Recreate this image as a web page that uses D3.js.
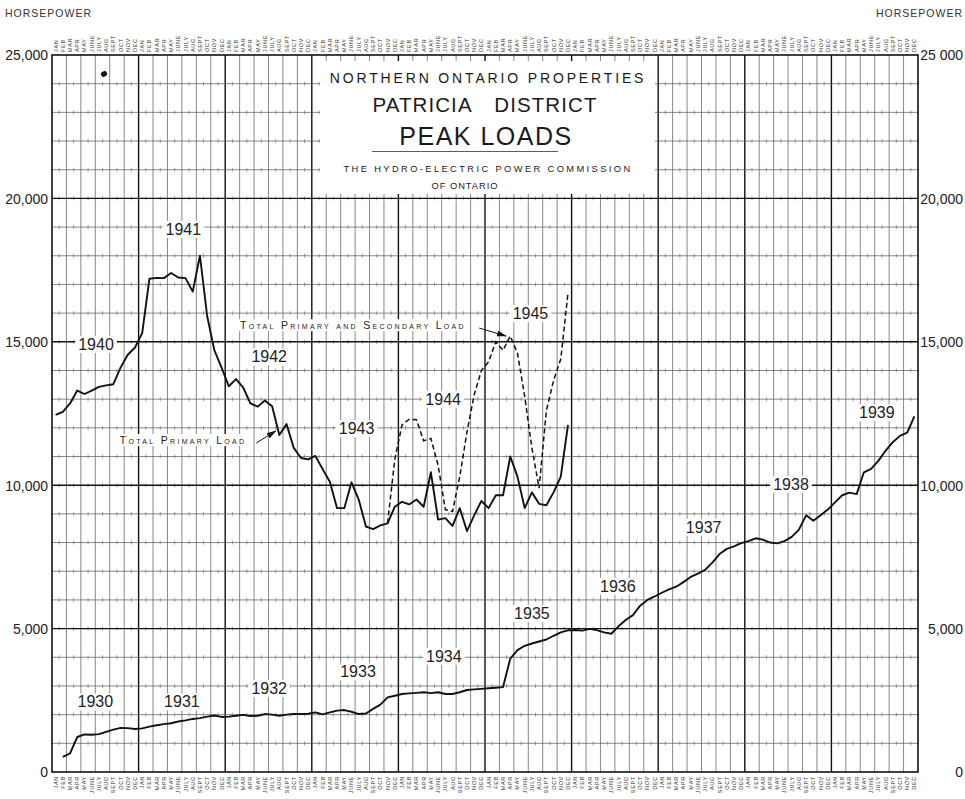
<!DOCTYPE html>
<html>
<head>
<meta charset="utf-8">
<script src="https://cdnjs.cloudflare.com/ajax/libs/d3/7.8.5/d3.min.js"></script>
<style>
  body { margin: 0; background: #fff; }
  svg { display: block; font-family: 'Liberation Sans', Arial, sans-serif; }
  .mon { font-size: 5.5px; letter-spacing: 0.7px; fill: #333; }
  .yr { font-family: 'Liberation Sans Narrow', 'Liberation Sans', sans-serif; font-size: 16px; fill: #222; }
  .sc { font-variant: small-caps; font-size: 10.5px; letter-spacing: 2.3px; fill: #222; }
  .ax text { font-size: 14px; fill: #222; }
</style>
</head>
<body>
<div id="chart"></div>
<script>
// month names along the top and bottom, one per month, 1930 to 1939
const months = ['JAN', 'FEB', 'MAR', 'APR', 'MAY', 'JUNE', 'JULY', 'AUG', 'SEPT', 'OCT', 'NOV', 'DEC']
const lowYears = ['1930', '1931', '1932', '1933', '1934', '1935', '1936', '1937', '1938', '1939']
const highYears = ['1940', '1941', '1942', '1943', '1944', '1945']

// peak load, horsepower, monthly 1930-1939 (first month not drawn)
const load30s = [
  null, 530, 650, 1220, 1310, 1300, 1320, 1400, 1480, 1540, 1530, 1500,
  1520, 1580, 1630, 1670, 1700, 1760, 1800, 1850, 1880, 1930, 1970, 1920,
  1930, 1960, 1990, 1950, 1960, 2020, 2000, 1960, 2000, 2020, 2020, 2030,
  2080, 2010, 2080, 2140, 2160, 2100, 2020, 2040, 2200, 2350, 2600, 2660,
  2720, 2740, 2760, 2780, 2750, 2780, 2720, 2720, 2780, 2860, 2880, 2900,
  2920, 2940, 2960, 3950, 4250, 4400, 4480, 4550, 4620, 4750, 4870, 4940,
  4950, 4930, 4990, 4950, 4870, 4820, 5080, 5300, 5470, 5800, 6000, 6120,
  6250, 6370, 6460, 6620, 6800, 6920, 7050, 7300, 7600, 7780, 7870, 7980,
  8050, 8150, 8100, 8000, 7970, 8050, 8200, 8450, 8950, 8760, 8950, 9150,
  9400, 9650, 9740, 9690, 10450, 10570, 10850, 11200, 11500, 11720, 11830, 12400
]

// total primary load, monthly 1940-1945
const primary40s = [
  12450, 12560, 12850, 13300, 13180, 13300, 13430, 13480, 13520, 14100, 14550, 14800,
  15300, 17200, 17230, 17220, 17400, 17240, 17220, 16750, 18000, 15900, 14700, 14100,
  13450, 13700, 13400, 12850, 12740, 12950, 12750, 11750, 12130, 11300, 10950, 10900,
  11020, 10560, 10120, 9200, 9200, 10100, 9500, 8560, 8470, 8600, 8670, 9250,
  9420, 9330, 9500, 9250, 10450, 8800, 8850, 8580, 9200, 8400, 8950, 9450,
  9200, 9650, 9650, 11000, 10300, 9200, 9750, 9350, 9300, 9750, 10300, 12100
]

// total primary and secondary load, monthly 1940-1945 (from Nov 1943)
const secondary40s = [
  null, null, null, null, null, null, null, null, null, null, null, null,
  null, null, null, null, null, null, null, null, null, null, null, null,
  null, null, null, null, null, null, null, null, null, null, null, null,
  null, null, null, null, null, null, null, null, null, null, 8670, 10900,
  12100, 12300, 12280, 11550, 11630, 10700, 9150, 9080, 10300, 11850, 13150, 14000,
  14300, 15000, 14700, 15200, 14600, 13100, 11300, 9900, 12600, 13650, 14400, 16700
]

const leftTicks = ['0', '5,000', '10,000', '15,000', '20,000', '25,000']
const rightTicks = ['0', '5,000', '10,000', '15,000', '20,000', '25 000']

const width = 965
const height = 799
const svg = d3.select('#chart').append('svg')
  .attr('width', width).attr('height', height)
svg.append('rect').attr('width', width).attr('height', height).attr('fill', '#fff')

// month slots, 0..120, horsepower 0..25,000
const x = d3.scaleLinear().domain([0, 120]).range([52, 918])
const y = d3.scaleLinear().domain([0, 25000]).range([772, 55])
const mx = (d, i) => x(i + 0.5)

let grid = svg.append('g')
// little marks between grid lines
grid.selectAll('.tk').data(d3.cross(d3.range(1, 120, 2), d3.range(1000, 25000, 1000))).enter()
  .append('line')
  .attr('x1', d => x(d[0])).attr('x2', d => x(d[0]))
  .attr('y1', d => y(d[1]) - 2).attr('y2', d => y(d[1]) + 2)
  .attr('stroke', '#666').attr('stroke-width', 0.6)
grid.selectAll('.vg').data(d3.range(2, 120, 2)).enter().append('line')
  .attr('x1', d => x(d)).attr('x2', d => x(d))
  .attr('y1', y(0)).attr('y2', y(25000))
  .attr('stroke', d => d % 12 === 0 ? '#111' : '#555')
  .attr('stroke-width', d => d % 12 === 0 ? 1.4 : 0.7)
grid.selectAll('.hg').data(d3.range(1000, 25000, 1000)).enter().append('line')
  .attr('x1', x(0)).attr('x2', x(120))
  .attr('y1', d => y(d)).attr('y2', d => y(d))
  .attr('stroke', d => d % 5000 === 0 ? '#111' : '#555')
  .attr('stroke-width', d => d % 5000 === 0 ? 1.4 : 0.7)
svg.append('rect')
  .attr('x', x(0)).attr('y', y(25000))
  .attr('width', x(120) - x(0)).attr('height', y(0) - y(25000))
  .attr('fill', 'none').attr('stroke', '#111').attr('stroke-width', 1.6)

// month labels, top and bottom
let allMonths = d3.range(120).map(i => months[i % 12])
svg.selectAll('.mt').data(allMonths).enter().append('text')
  .attr('class', 'mon')
  .attr('transform', (d, i) => `translate(${mx(d, i) + 2},52) rotate(-90)`)
  .text(d => d)
svg.selectAll('.mb').data(allMonths).enter().append('text')
  .attr('class', 'mon').attr('text-anchor', 'end')
  .attr('transform', (d, i) => `translate(${mx(d, i) + 2},776) rotate(-90)`)
  .text(d => d)

// axes
let tickVals = [0, 5000, 10000, 15000, 20000, 25000]
let la = svg.append('g').attr('class', 'ax').attr('transform', `translate(${x(0)},0)`)
  .call(d3.axisLeft(y).tickValues(tickVals).tickSize(0).tickPadding(4).tickFormat((d, i) => leftTicks[i]))
la.select('.domain').remove()
la.selectAll('text').attr('dy', '0.35em')
let ra = svg.append('g').attr('class', 'ax').attr('transform', `translate(${x(120)},0)`)
  .call(d3.axisRight(y).tickValues(tickVals).tickSize(0).tickFormat((d, i) => rightTicks[i]))
ra.select('.domain').remove()
ra.selectAll('text').attr('x', 963 - x(120)).attr('text-anchor', 'end').attr('dy', '0.35em')

svg.append('text').attr('x', 5).attr('y', 17).attr('font-size', 10.5).attr('letter-spacing', 1)
  .attr('fill', '#333').text('HORSEPOWER')
svg.append('text').attr('x', 963).attr('y', 17).attr('font-size', 10.5).attr('letter-spacing', 1)
  .attr('text-anchor', 'end').attr('fill', '#333').text('HORSEPOWER')

// title block
svg.append('rect').attr('x', 320).attr('y', 61).attr('width', 335).attr('height', 133).attr('fill', '#fff')
let title = svg.append('g').attr('fill', '#1a1a1a').attr('text-anchor', 'middle')
title.append('text').attr('x', 488).attr('y', 83).attr('font-size', 14).attr('letter-spacing', 2.85)
  .text('NORTHERN ONTARIO PROPERTIES')
title.append('text').attr('x', 485).attr('y', 111.5).attr('font-size', 20.5).attr('letter-spacing', 1.1)
  .text('PATRICIA\u2003DISTRICT')
title.append('text').attr('x', 486).attr('y', 145).attr('font-size', 25).attr('letter-spacing', 1.5)
  .text('PEAK LOADS')
title.append('line').attr('x1', 372).attr('x2', 558).attr('y1', 151.5).attr('y2', 151.5)
  .attr('stroke', '#333').attr('stroke-width', 0.8)
title.append('text').attr('x', 488).attr('y', 171.5).attr('font-size', 9.3).attr('letter-spacing', 2.4)
  .text('THE HYDRO-ELECTRIC POWER COMMISSION')
title.append('text').attr('x', 465).attr('y', 188.5).attr('font-size', 9.3).attr('letter-spacing', 1)
  .text('OF ONTARIO')

// year labels, placed in month / horsepower units
const lowAt = [[6.0, 2450], [18.0, 2450], [30.1, 2920], [42.4, 3500], [54.3, 4045],
  [66.5, 5535], [78.4, 6485], [90.3, 8540], [102.4, 10040], [114.3, 12530]]
const highAt = [[6.1, 14920], [18.2, 18930], [30.1, 14480], [42.2, 11980], [54.2, 13005], [66.3, 15990]]

function boxed (sel) {
  sel.each(function () {
    let b = this.getBBox()
    d3.select(this.parentNode).insert('rect', () => this)
      .attr('x', b.x - 3).attr('y', b.y).attr('width', b.width + 6).attr('height', b.height)
      .attr('fill', '#fff')
  })
}

let labels = svg.append('g')
lowYears.concat(highYears).forEach((t, i) => {
  let p = i < 10 ? lowAt[i] : highAt[i - 10]
  labels.append('text').attr('class', 'yr')
    .attr('x', x(p[0])).attr('y', y(p[1]))
    .attr('text-anchor', 'middle').attr('dy', '0.36em')
    .text(t)
})
boxed(labels.selectAll('text'))

// curves
let line = d3.line().defined(d => d !== null).x(mx).y(d => y(d))
svg.append('path').datum(load30s).attr('d', line)
  .attr('fill', 'none').attr('stroke', '#111').attr('stroke-width', 1.9).attr('stroke-linejoin', 'round')
svg.append('path').datum(secondary40s).attr('d', line)
  .attr('fill', 'none').attr('stroke', '#111').attr('stroke-width', 1.5).attr('stroke-dasharray', '5,3')
svg.append('path').datum(primary40s).attr('d', line)
  .attr('fill', 'none').attr('stroke', '#111').attr('stroke-width', 1.9).attr('stroke-linejoin', 'round')

// legend notes with arrows
svg.append('defs').append('marker').attr('id', 'arr')
  .attr('viewBox', '0 0 10 6').attr('refX', 9).attr('refY', 3)
  .attr('markerWidth', 10).attr('markerHeight', 6).attr('orient', 'auto')
  .attr('markerUnits', 'userSpaceOnUse')
  .append('path').attr('d', 'M0,0L10,3L0,6Z').attr('fill', '#111')

let notes = svg.append('g')
notes.append('text').attr('class', 'sc').attr('x', x(9.4)).attr('y', y(11435)).text('Total Primary Load')
notes.append('text').attr('class', 'sc').attr('x', x(26.05)).attr('y', y(15440)).text('Total Primary and Secondary Load')
boxed(notes.selectAll('text'))
notes.append('line').attr('x1', x(28.3)).attr('y1', y(11470)).attr('x2', x(31.0)).attr('y2', y(11890))
  .attr('stroke', '#111').attr('stroke-width', 1).attr('marker-end', 'url(#arr)')
notes.append('line').attr('x1', x(59.2)).attr('y1', y(15480)).attr('x2', x(62.9)).attr('y2', y(15200))
  .attr('stroke', '#111').attr('stroke-width', 1).attr('marker-end', 'url(#arr)')

// ink blot on the sheet
svg.append('ellipse').attr('cx', 104).attr('cy', 74).attr('rx', 3.2).attr('ry', 2.6)
  .attr('transform', 'rotate(-30,104,74)').attr('fill', '#111')
</script>
</body>
</html>
